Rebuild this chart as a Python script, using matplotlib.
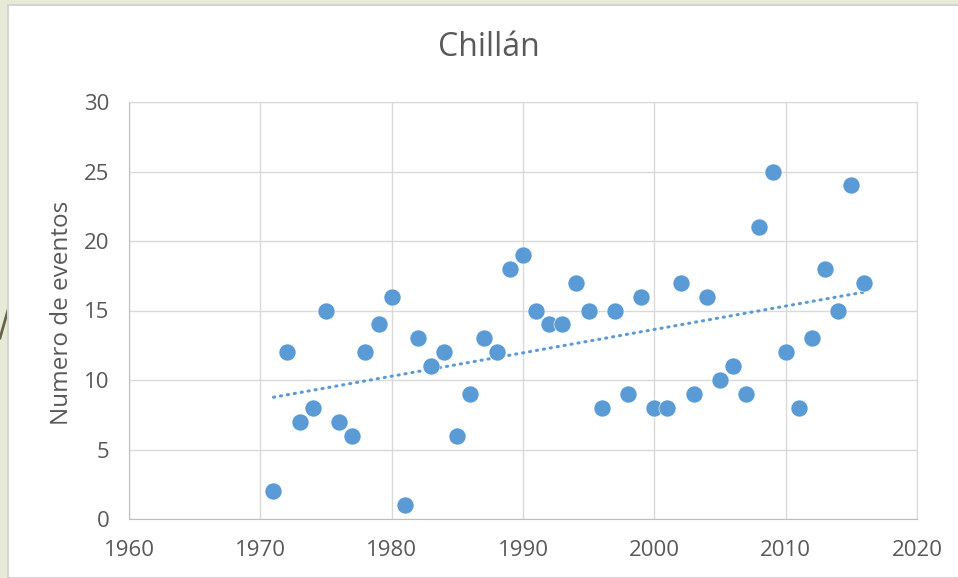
import numpy as np
import matplotlib
matplotlib.use("Agg")
import matplotlib.pyplot as plt
from matplotlib.patches import Rectangle
from matplotlib.lines import Line2D

years = list(range(1971, 2017))
eventos = [2, 12, 7, 8, 15, 7, 6, 12, 14, 16,
           1, 13, 11, 12, 6, 9, 13, 12, 18, 19,
           15, 14, 14, 17, 15, 8, 15, 9, 16, 8,
           8, 17, 9, 16, 10, 11, 9, 21, 25, 12,
           8, 13, 18, 15, 24, 17]
x_ticks = [1960, 1970, 1980, 1990, 2000, 2010, 2020]
y_ticks = [0, 5, 10, 15, 20, 25, 30]

azul = "#5b9bd5"
gris = "#595959"
plt.rcParams['font.family'] = ['Open Sans', 'DejaVu Sans']

fig = plt.figure(figsize=(9.58, 5.78), dpi=100)
fig.patch.set_facecolor("#e7ead6")
# white chart area with light border, as pasted on the slide
fig.patches.append(Rectangle((8/958, 0), 1, 1 - 5/578, transform=fig.transFigure,
                             facecolor="white", edgecolor="#d4d4d4", lw=1.5, zorder=-10))
fig.lines.append(Line2D([0, 8/958], [1 - 338/578, 1 - 310/578], transform=fig.transFigure,
                        color="#6b6347", lw=2, zorder=-10))

ax = fig.add_axes([129/958, 1 - 519/578, (917 - 129)/958, (519 - 102)/578])
ax.set_facecolor("white")

x = np.array(years)
y = np.array(eventos)
ax.scatter(x, y, s=150, color=azul, edgecolors="white", linewidths=0.4, zorder=3)

# tendencia lineal
m, b = np.polyfit(x, y, 1)
ax.plot([x[0], x[-1]], [m*x[0] + b, m*x[-1] + b], color=azul, lw=2.2,
        linestyle=(0, (0.4, 1.9)), dash_capstyle="round", zorder=2)

ax.set_xlim(1960, 2020)
ax.set_ylim(0, 30)
ax.set_xticks(x_ticks)
ax.set_yticks(y_ticks)
ax.grid(True, color="#d9d9d9", lw=1)
ax.set_axisbelow(True)
for s in ax.spines.values():
    s.set_color("#d9d9d9")
ax.spines["left"].set_color("#bfbfbf")
ax.spines["bottom"].set_color("#bfbfbf")
ax.tick_params(length=0, labelsize=16, colors=gris)
ax.tick_params(axis="y", pad=14)
ax.tick_params(axis="x", pad=15)

fig.text(62/958, 1 - 313/578, "Numero de eventos", rotation=90, ha="center", va="center",
         fontsize=17.5, color=gris)
fig.text(489/958, 1 - 48/578, "Chillán", ha="center", va="center", fontsize=23, color=gris)

fig.savefig("out.png", dpi=100, facecolor=fig.get_facecolor())
